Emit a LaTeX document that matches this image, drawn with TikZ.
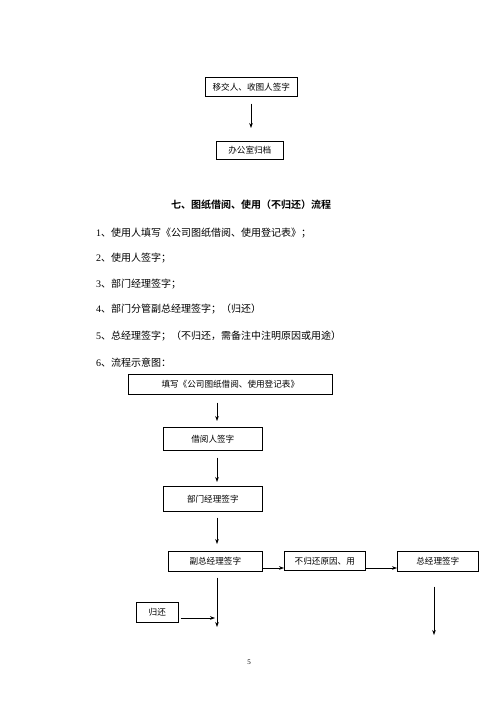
\documentclass[tikz,border=0pt]{standalone}
\usepackage{fontspec}
\setmainfont{Liberation Serif}
\newfontfamily\cjk{Noto Sans CJK SC}[BoldFont={Noto Sans CJK SC Bold}]
\usetikzlibrary{arrows.meta,calc}
\begin{document}
\begin{tikzpicture}[x=1pt,y=-1pt,
  box/.style={draw,line width=0.6pt,font=\cjk\fontsize{8.6}{10}\selectfont,inner sep=0pt,anchor=north west},
  arr/.style={line width=0.6pt,-{Stealth[length=5pt,width=3.6pt]}},
  item/.style={anchor=west,inner sep=0pt,font=\fontsize{10}{12}\selectfont}]
\useasboundingbox[fill=white] (0,0) rectangle (500,707);
% top part
\node[box,minimum width=92pt,minimum height=19pt] (yj) at (205,77) {移交人、收图人签字};
\node[box,minimum width=67pt,minimum height=18pt] (bg) at (216,141) {办公室归档};
\coordinate (c1) at (251,0);
\draw[arr,shorten <=7pt,shorten >=13pt] (yj.south -| c1) -- (bg.north -| c1);
% heading and list
\node[inner sep=0pt,font=\cjk\bfseries\fontsize{10}{12}\selectfont] (hd) at (251,205) {七、图纸借阅、使用（不归还）流程};
\node[item] (l1) at (96,233) {1{\cjk 、使用人填写《公司图纸借阅、使用登记表》；}};
\node[item] (l2) at (96,258) {2{\cjk 、使用人签字；}};
\node[item] (l3) at (96,284) {3{\cjk 、部门经理签字；}};
\node[item] (l4) at (96,309) {4{\cjk 、部门分管副总经理签字；（归还）}};
\node[item] (l5) at (96,336) {5{\cjk 、总经理签字；（不归还，需备注中注明原因或用途）}};
\node[item] (l6) at (96,363) {6{\cjk 、流程示意图：}};
% flowchart
\node[box,minimum width=204pt,minimum height=20pt] (tx) at (128,374) {填写《公司图纸借阅、使用登记表》};
\node[box,minimum width=99pt,minimum height=23pt] (jy) at (163,427) {借阅人签字};
\node[box,minimum width=99pt,minimum height=25pt] (bm) at (163,486) {部门经理签字};
\node[box,minimum width=94pt,minimum height=20pt] (fz) at (168,551) {副总经理签字};
\node[box,minimum width=81pt,minimum height=19pt] (bh) at (284,551) {不归还原因、用};
\node[box,minimum width=81pt,minimum height=20pt] (zj) at (397,551) {总经理签字};
\node[box,minimum width=42pt,minimum height=20pt] (gh) at (136,602) {归还};
\coordinate (c2) at (217,0);
\coordinate (c3) at (434,0);
\coordinate (e1) at (217,627);
\coordinate (e2) at (434,635);
\coordinate (r1) at (0,618);
\coordinate (r2) at (0,568);
\draw[arr,shorten <=8pt,shorten >=6pt] (tx.south -| c2) -- (jy.north -| c2);
\draw[arr,shorten <=7pt,shorten >=4pt] (jy.south -| c2) -- (bm.north -| c2);
\draw[arr,shorten <=6pt,shorten >=7pt] (bm.south -| c2) -- (fz.north -| c2);
\draw[arr] (fz.east |- r2) -- (bh.west |- r2);
\draw[arr] (bh.east |- r2) -- (zj.west |- r2);
\draw[arr,shorten <=6pt] (fz.south -| c2) -- (e1);
\draw[arr,shorten <=2pt,shorten >=2pt] (gh.east |- r1) -- (c2 |- r1);
\draw[arr,shorten <=15pt] (zj.south -| c3) -- (e2);
\node[inner sep=0pt,font=\fontsize{7}{8}\selectfont] (pg) at (249,662) {5};
\end{tikzpicture}
\end{document}
